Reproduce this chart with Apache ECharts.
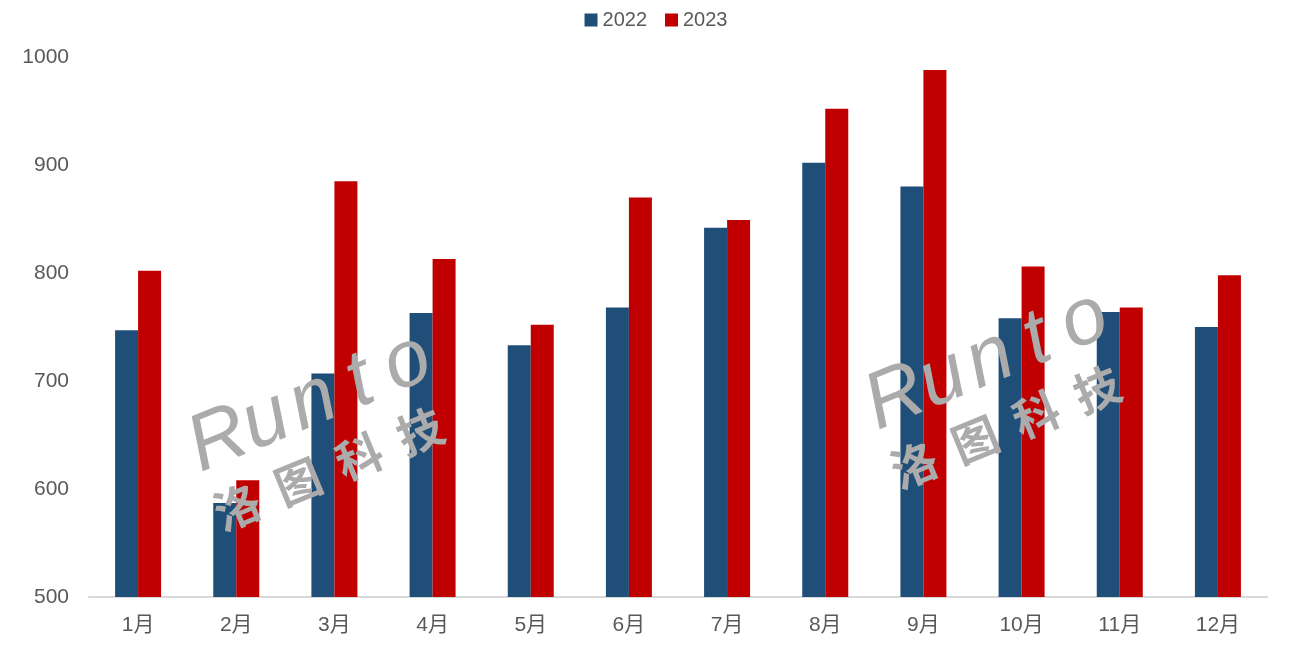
<!DOCTYPE html>
<html>
<head>
<meta charset="utf-8">
<script src="https://cdn.jsdelivr.net/npm/echarts@6/dist/echarts.min.js"></script>
<style>html,body{margin:0;padding:0;background:#fff}#c{width:1312px;height:652px}</style>
</head>
<body>
<div id="c"></div>
<script>
const months = ['1月','2月','3月','4月','5月','6月','7月','8月','9月','10月','11月','12月'];
const s2022 = [747, 587, 707, 763, 733, 768, 842, 902, 880, 758, 764, 750];
const s2023 = [802, 608, 885, 813, 752, 870, 849, 952, 988, 806, 768, 798];
const yTicks = [500, 600, 700, 800, 900, 1000];

const FONT = "'Liberation Sans', 'Noto Sans CJK SC', sans-serif";
const WM = '#ababab';
function watermark(x, y) {
  const latin = ['R', 'u', 'n', 't', 'o'];
  const cjk = ['洛', '图', '科', '技'];
  return {
    type: 'group', x: x, y: y, rotation: 0.39, z: 100,
    children: [
      ...latin.map((ch, i) => ({ type: 'text', x: -102 + i * 51, y: 0, z: 100, style: { text: ch, fill: WM, font: 'italic 80px ' + FONT, textAlign: 'center', textVerticalAlign: 'middle' } })),
      ...cjk.map((ch, i) => ({ type: 'text', x: -110 + i * 66, y: 68, z: 100, style: { text: ch, fill: WM, font: 'bold 46px "Noto Sans CJK SC", sans-serif', textAlign: 'center', textVerticalAlign: 'middle' } }))
    ]
  };
}

const chart = echarts.init(document.getElementById('c'));
chart.setOption({
  animation: false,
  textStyle: { fontFamily: FONT },
  legend: {
    top: 5, left: 'center', itemWidth: 13, itemHeight: 13, itemGap: 18, icon: 'rect',
    textStyle: { fontSize: 20, color: '#595959', fontFamily: FONT },
    data: ['2022', '2023']
  },
  grid: { left: 89, right: 45, top: 57, bottom: 55 },
  xAxis: {
    type: 'category', data: months,
    axisLine: { lineStyle: { color: '#d9d9d9', width: 2 } },
    axisTick: { show: false },
    axisLabel: { fontSize: 21, color: '#595959', margin: 18, fontFamily: FONT }
  },
  yAxis: {
    type: 'value', min: yTicks[0], max: yTicks[yTicks.length - 1], interval: 100,
    splitLine: { show: false },
    axisLine: { show: false }, axisTick: { show: false },
    axisLabel: { fontSize: 21, color: '#595959', margin: 20, fontFamily: FONT, formatter: v => String(v) }
  },
  series: [
    { name: '2022', type: 'bar', data: s2022, barWidth: 23, barGap: '0%', itemStyle: { color: '#1f4e79' } },
    { name: '2023', type: 'bar', data: s2023, barWidth: 23, barGap: '0%', itemStyle: { color: '#c00000' } }
  ],
  graphic: [watermark(313, 402), watermark(990, 360)]
});
</script>
</body>
</html>
